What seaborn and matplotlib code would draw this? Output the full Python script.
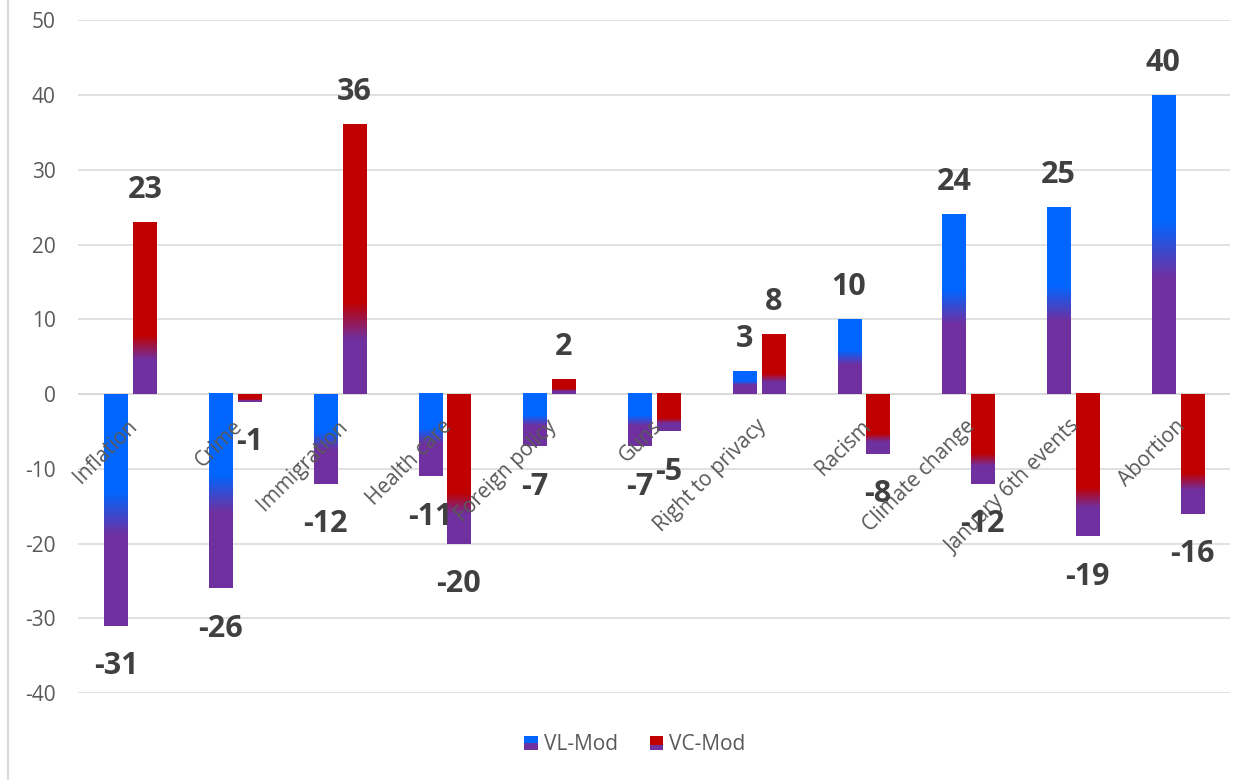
import numpy as np
import pandas as pd
import seaborn as sns
import matplotlib.pyplot as plt
from matplotlib.patches import Patch, Rectangle
from matplotlib.legend_handler import HandlerBase
from matplotlib.lines import Line2D

issues = ['Inflation', 'Crime', 'Immigration', 'Health care', 'Foreign policy', 'Guns',
          'Right to privacy', 'Racism', 'Climate change', 'January 6th events', 'Abortion']
series = ['VL-Mod', 'VC-Mod']
vl_mod = [-31, -26, -12, -11, -7, -7, 3, 10, 24, 25, 40]
vc_mod = [23, -1, 36, -20, 2, -5, 8, -8, -12, -19, -16]
y_ticks = [-40, -30, -20, -10, 0, 10, 20, 30, 40, 50]

top_colors = {'VL-Mod': '#0066FF', 'VC-Mod': '#C00000'}
purple = '#7030A0'
# where the solid colour stops and where the purple begins (fraction of bar length from its top)
stops = {'VL-Mod': (0.42, 0.61), 'VC-Mod': (0.66, 0.80)}

df = pd.DataFrame({
    'issue': issues * 2,
    'series': ['VL-Mod'] * len(issues) + ['VC-Mod'] * len(issues),
    'value': vl_mod + vc_mod,
})

sns.set_style('white')
plt.rcParams['font.family'] = ['Open Sans', 'DejaVu Sans']

text_grey = '#595959'
label_grey = '#404040'
grid_grey = '#D9D9D9'
small = 15


def gradient(name, n=300):
    a, b = stops[name]
    t = np.linspace(0, 1, n)
    f = np.clip((t - a) / (b - a), 0, 1)[:, None]
    c0 = np.array(plt.matplotlib.colors.to_rgb(top_colors[name]))
    c1 = np.array(plt.matplotlib.colors.to_rgb(purple))
    rows = c0 * (1 - f) + c1 * f
    return np.repeat(rows[:, None, :], 2, axis=1)


class GradientHandler(HandlerBase):
    def create_artists(self, legend, orig_handle, xdescent, ydescent, width, height, fontsize, trans):
        name = orig_handle.get_label()
        img_rows = gradient(name, 6)[:, 0, :]
        artists = []
        for k, col in enumerate(img_rows):
            y = -ydescent + height * (1 - (k + 1) / len(img_rows))
            artists.append(Rectangle((-xdescent, y), width, height / len(img_rows),
                                     facecolor=col, edgecolor='none', transform=trans))
        return artists


fig, ax = plt.subplots(figsize=(12.5, 7.8), dpi=100)
fig.subplots_adjust(left=0.0624, right=0.984, top=0.974, bottom=0.1115)

sns.barplot(data=df, x='issue', y='value', hue='series', order=issues, hue_order=series,
            palette=top_colors, width=0.55, gap=0.2, legend=False, ax=ax, zorder=2)

# swap the flat fills for vertical gradients
for container, name in zip(ax.containers, series):
    grad = gradient(name)
    for bar in container:
        x0 = bar.get_x()
        x1 = x0 + bar.get_width()
        y_a = bar.get_y()
        y_b = y_a + bar.get_height()
        ax.imshow(grad, extent=[x0, x1, min(y_a, y_b), max(y_a, y_b)], origin='upper',
                  aspect='auto', zorder=2, interpolation='bilinear')
        bar.set_facecolor('none')
        bar.set_edgecolor('none')
        val = bar.get_height()
        cx = x0 + bar.get_width() / 2
        ax.annotate(f'{val:.0f}', xy=(cx, val), xytext=(0, 17.6 if val >= 0 else -35),
                    textcoords='offset points', ha='center', va='baseline',
                    fontsize=22, fontweight='bold', color=label_grey, zorder=4)

ax.set_xlim(-0.5, len(issues) - 0.5)
ax.set_ylim(-40, 50)
ax.set_yticks(y_ticks)
ax.set_yticklabels([str(v) for v in y_ticks])
ax.tick_params(axis='y', length=0, pad=16, labelsize=small, labelcolor=text_grey)
ax.set_xticks(range(len(issues)))
ax.set_xticklabels([])
ax.tick_params(axis='x', length=0)
ax.set_xlabel('')
ax.set_ylabel('')
ax.grid(axis='y', color=grid_grey, linewidth=1.1, zorder=0)
ax.set_axisbelow(True)
ax.axhline(0, color=grid_grey, linewidth=1.3, zorder=1)
sns.despine(ax=ax, left=True, bottom=True)

# category names hang from the zero line
for i, name in enumerate(issues):
    ax.annotate(name, xy=(i, 0), xytext=(3, -21), textcoords='offset points',
                rotation=45, rotation_mode='anchor', ha='right', va='center',
                fontsize=small, color=text_grey, zorder=3)

handles = [Patch(label=s) for s in series]
fig.legend(handles=handles, labels=series, handler_map={Patch: GradientHandler()},
           loc='center', bbox_to_anchor=(0.508, 0.045), ncol=2, frameon=False,
           fontsize=small, labelcolor=text_grey, handlelength=0.65, handleheight=0.65,
           handletextpad=0.3, columnspacing=1.5)

fig.add_artist(Line2D([0.006, 0.006], [0, 1], transform=fig.transFigure,
                      color=grid_grey, linewidth=1.5))

fig.savefig('out.png', dpi=100)
